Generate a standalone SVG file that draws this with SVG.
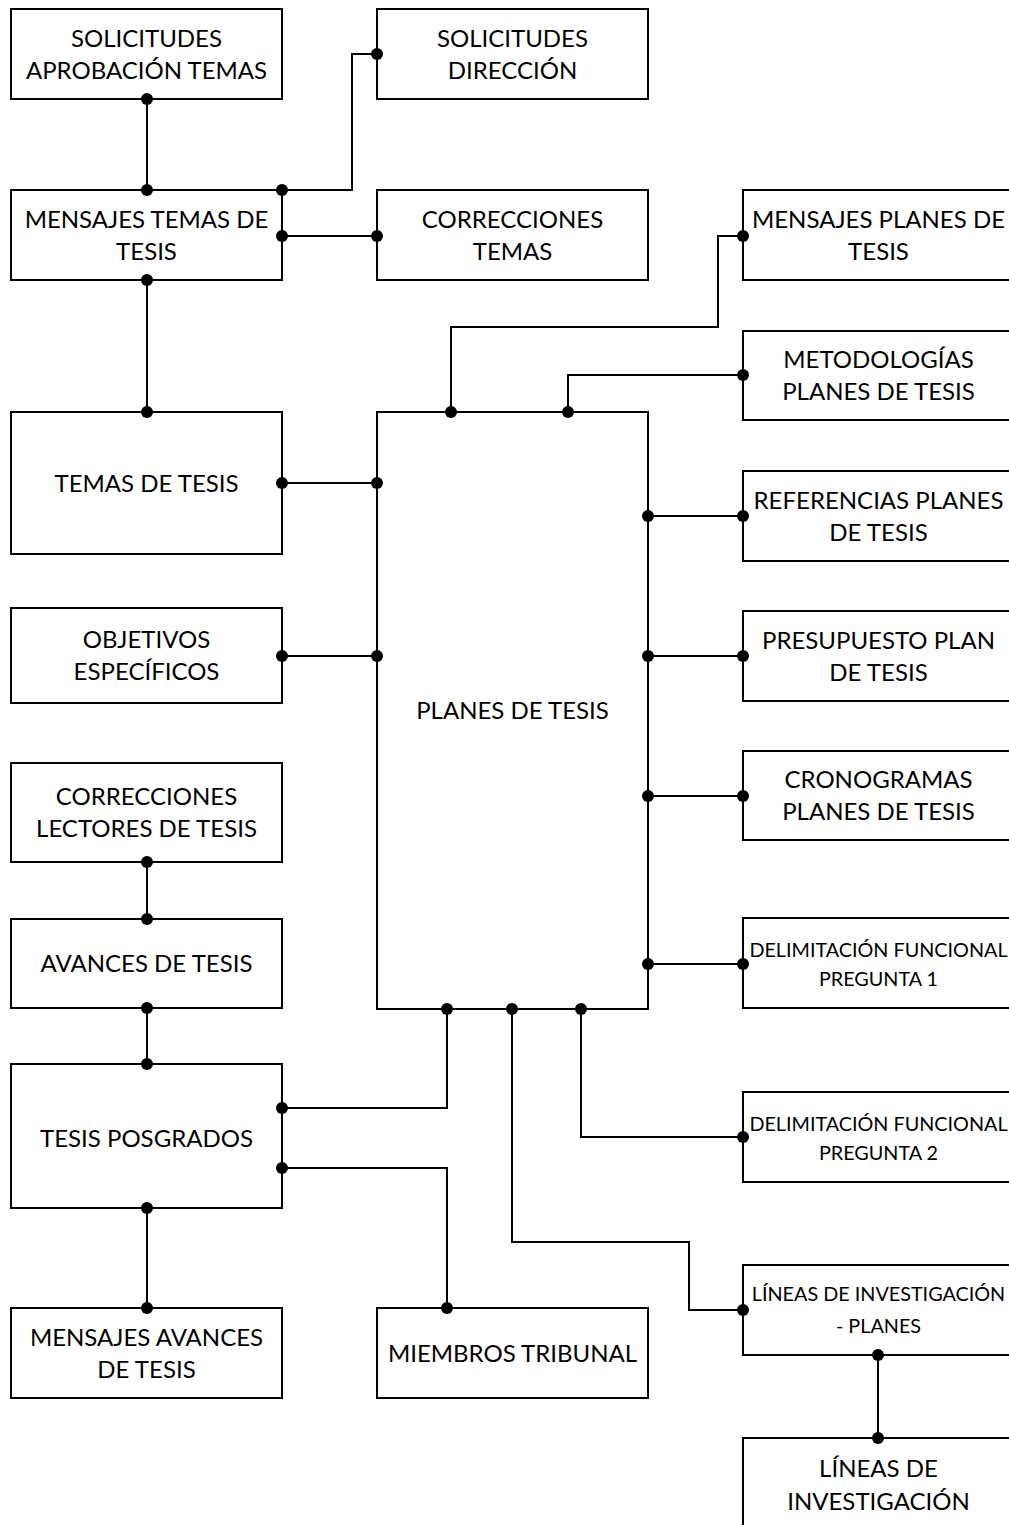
<svg xmlns="http://www.w3.org/2000/svg" width="1009" height="1525" viewBox="0 0 1009 1525">
  <style>
    .box { fill: #ffffff; stroke: #000000; stroke-width: 2; }
    .lbl { font-family: "Lato", "Liberation Sans", sans-serif; font-size: 24px; fill: #000000; text-anchor: middle; }
    .sm { font-size: 19.8px; }
    .wire { fill: none; stroke: #000000; stroke-width: 2; marker-start: url(#dot); marker-end: url(#dot); }
  </style>
  <defs>
    <marker id="dot" viewBox="0 0 14 14" refX="7" refY="7" markerWidth="14" markerHeight="14" markerUnits="userSpaceOnUse">
      <circle cx="7" cy="7" r="6" fill="#000000"/>
    </marker>
  </defs>
  <rect width="1009" height="1525" fill="#ffffff"/>

  <!-- nodes -->
  <g id="solicitudes-aprobacion-temas">
    <rect class="box" x="11" y="9" width="271" height="90"/>
    <text class="lbl" x="146.5" y="47">SOLICITUDES</text>
    <text class="lbl" x="146.5" y="79">APROBACIÓN TEMAS</text>
  </g>
  <g id="solicitudes-direccion">
    <rect class="box" x="377" y="9" width="271" height="90"/>
    <text class="lbl" x="512.5" y="47">SOLICITUDES</text>
    <text class="lbl" x="512.5" y="79">DIRECCIÓN</text>
  </g>
  <g id="mensajes-temas-de-tesis">
    <rect class="box" x="11" y="190" width="271" height="90"/>
    <text class="lbl" x="146.5" y="228">MENSAJES TEMAS DE</text>
    <text class="lbl" x="146.5" y="260">TESIS</text>
  </g>
  <g id="correcciones-temas">
    <rect class="box" x="377" y="190" width="271" height="90"/>
    <text class="lbl" x="512.5" y="228">CORRECCIONES</text>
    <text class="lbl" x="512.5" y="260">TEMAS</text>
  </g>
  <g id="mensajes-planes-de-tesis">
    <rect class="box" x="743" y="190" width="271" height="90"/>
    <text class="lbl" x="878.5" y="228">MENSAJES PLANES DE</text>
    <text class="lbl" x="878.5" y="260">TESIS</text>
  </g>
  <g id="metodologias-planes-de-tesis">
    <rect class="box" x="743" y="331" width="271" height="89"/>
    <text class="lbl" x="878.5" y="368">METODOLOGÍAS</text>
    <text class="lbl" x="878.5" y="400">PLANES DE TESIS</text>
  </g>
  <g id="temas-de-tesis">
    <rect class="box" x="11" y="412" width="271" height="142"/>
    <text class="lbl" x="146.5" y="492">TEMAS DE TESIS</text>
  </g>
  <g id="planes-de-tesis">
    <rect class="box" x="377" y="412" width="271" height="597"/>
    <text class="lbl" x="512.5" y="719">PLANES DE TESIS</text>
  </g>
  <g id="referencias-planes-de-tesis">
    <rect class="box" x="743" y="471" width="271" height="90"/>
    <text class="lbl" x="878.5" y="509">REFERENCIAS PLANES</text>
    <text class="lbl" x="878.5" y="541">DE TESIS</text>
  </g>
  <g id="objetivos-especificos">
    <rect class="box" x="11" y="608" width="271" height="95"/>
    <text class="lbl" x="146.5" y="648">OBJETIVOS</text>
    <text class="lbl" x="146.5" y="680">ESPECÍFICOS</text>
  </g>
  <g id="presupuesto-plan-de-tesis">
    <rect class="box" x="743" y="611" width="271" height="90"/>
    <text class="lbl" x="878.5" y="649">PRESUPUESTO PLAN</text>
    <text class="lbl" x="878.5" y="681">DE TESIS</text>
  </g>
  <g id="cronogramas-planes-de-tesis">
    <rect class="box" x="743" y="751" width="271" height="89"/>
    <text class="lbl" x="878.5" y="788">CRONOGRAMAS</text>
    <text class="lbl" x="878.5" y="820">PLANES DE TESIS</text>
  </g>
  <g id="correcciones-lectores-de-tesis">
    <rect class="box" x="11" y="763" width="271" height="99"/>
    <text class="lbl" x="146.5" y="805">CORRECCIONES</text>
    <text class="lbl" x="146.5" y="837">LECTORES DE TESIS</text>
  </g>
  <g id="avances-de-tesis">
    <rect class="box" x="11" y="919" width="271" height="89"/>
    <text class="lbl" x="146.5" y="972">AVANCES DE TESIS</text>
  </g>
  <g id="delimitacion-funcional-pregunta-1">
    <rect class="box" x="743" y="918" width="271" height="90"/>
    <text class="lbl sm" x="878.5" y="957">DELIMITACIÓN FUNCIONAL</text>
    <text class="lbl sm" x="878.5" y="986">PREGUNTA 1</text>
  </g>
  <g id="tesis-posgrados">
    <rect class="box" x="11" y="1064" width="271" height="144"/>
    <text class="lbl" x="146.5" y="1147">TESIS POSGRADOS</text>
  </g>
  <g id="delimitacion-funcional-pregunta-2">
    <rect class="box" x="743" y="1092" width="271" height="90"/>
    <text class="lbl sm" x="878.5" y="1131">DELIMITACIÓN FUNCIONAL</text>
    <text class="lbl sm" x="878.5" y="1160">PREGUNTA 2</text>
  </g>
  <g id="lineas-de-investigacion-planes">
    <rect class="box" x="743" y="1265" width="271" height="90"/>
    <text class="lbl sm" x="878.5" y="1301">LÍNEAS DE INVESTIGACIÓN</text>
    <text class="lbl sm" x="878.5" y="1333">- PLANES</text>
  </g>
  <g id="mensajes-avances-de-tesis">
    <rect class="box" x="11" y="1308" width="271" height="90"/>
    <text class="lbl" x="146.5" y="1346">MENSAJES AVANCES</text>
    <text class="lbl" x="146.5" y="1378">DE TESIS</text>
  </g>
  <g id="miembros-tribunal">
    <rect class="box" x="377" y="1308" width="271" height="90"/>
    <text class="lbl" x="512.5" y="1362">MIEMBROS TRIBUNAL</text>
  </g>
  <g id="lineas-de-investigacion">
    <rect class="box" x="743" y="1438" width="271" height="90"/>
    <text class="lbl" x="878.5" y="1477">LÍNEAS DE</text>
    <text class="lbl" x="878.5" y="1510">INVESTIGACIÓN</text>
  </g>

  <!-- connectors -->
  <g id="connectors">
    <path class="wire" d="M147,99 V190"/>
    <path class="wire" d="M282,190 H352 V54 H377"/>
    <path class="wire" d="M282,236 H377"/>
    <path class="wire" d="M147,280 V412"/>
    <path class="wire" d="M743,236 H718 V327 H451 V412"/>
    <path class="wire" d="M743,375 H568 V412"/>
    <path class="wire" d="M282,483 H377"/>
    <path class="wire" d="M282,656 H377"/>
    <path class="wire" d="M648,516 H743"/>
    <path class="wire" d="M648,656 H743"/>
    <path class="wire" d="M648,796 H743"/>
    <path class="wire" d="M648,964 H743"/>
    <path class="wire" d="M743,1137 H581 V1009"/>
    <path class="wire" d="M743,1310 H689 V1242 H512 V1009"/>
    <path class="wire" d="M147,862 V919"/>
    <path class="wire" d="M147,1008 V1064"/>
    <path class="wire" d="M282,1108 H447 V1009"/>
    <path class="wire" d="M282,1168 H447 V1308"/>
    <path class="wire" d="M147,1208 V1308"/>
    <path class="wire" d="M878,1355 V1438"/>
  </g>
</svg>
